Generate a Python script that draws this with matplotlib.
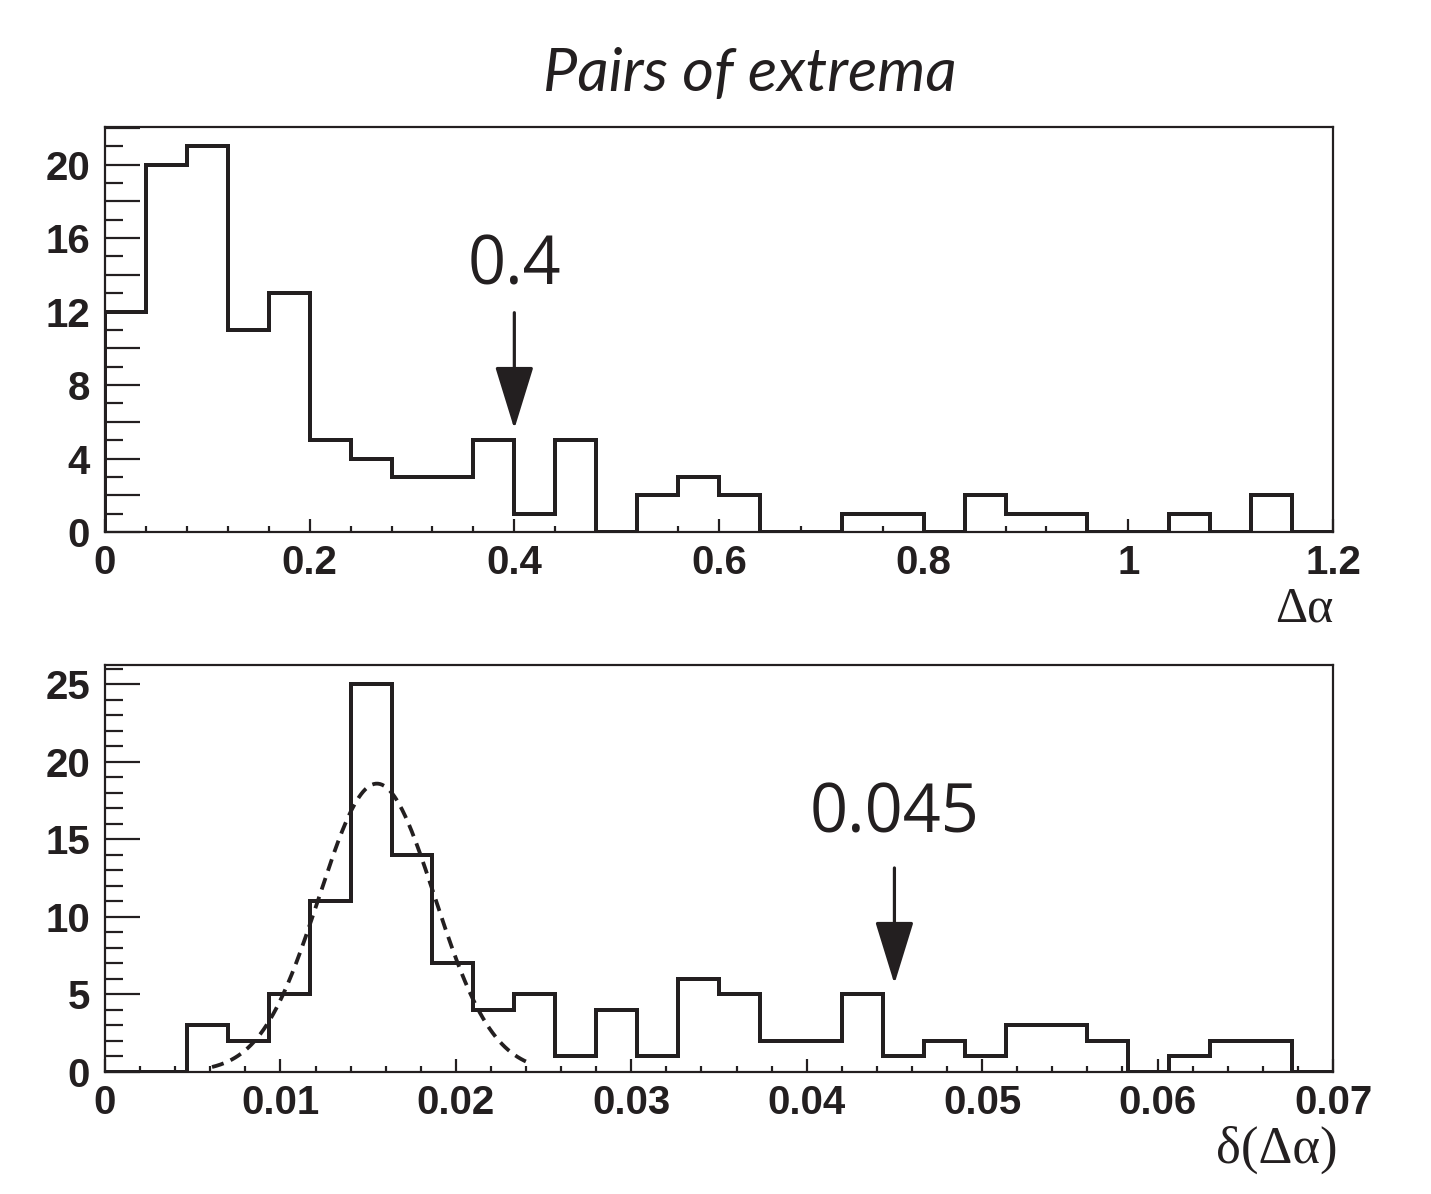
import numpy as np
import matplotlib
matplotlib.use("Agg")
import matplotlib.pyplot as plt
from matplotlib.ticker import MultipleLocator, FuncFormatter

# top panel: delta alpha, 30 bins on [0, 1.2]
top_edges = np.linspace(0.0, 1.2, 31)
top_counts = [12, 20, 21, 11, 13, 5, 4, 3, 3, 5,
              1, 5, 0, 2, 3, 2, 0, 0, 1, 1,
              0, 2, 1, 1, 0, 0, 1, 0, 2, 0]
top_cut = 0.4

# bottom panel: delta(delta alpha), 30 bins on [0, 0.07]
bot_edges = np.linspace(0.0, 0.07, 31)
bot_counts = [0, 0, 3, 2, 5, 11, 25, 14, 7, 4,
              5, 1, 4, 1, 6, 5, 2, 2, 5, 1,
              2, 1, 3, 3, 2, 0, 1, 2, 2, 0]
bot_cut = 0.045

# gaussian fit drawn dashed on the bottom panel
fit_amp = 18.6
fit_mean = 0.0155
fit_sigma = 0.0033
fit_range = (0.0061, 0.024)

INK = "#231f20"
W, H = 1431, 1194
PX = 72.0 / 100.0   # points per pixel at dpi 100

plt.rcParams["font.family"] = ["Liberation Sans", "DejaVu Sans"]

fig = plt.figure(figsize=(W / 100, H / 100), dpi=100)
ax1 = fig.add_axes([105 / W, 1 - 532 / H, 1228 / W, 405 / H])
ax2 = fig.add_axes([105 / W, 1 - 1072 / H, 1228 / W, 407 / H])


def fmt_num(v, pos):
    return "%g" % round(v, 6)


def style_axes(ax, xmajor, xminor, ymajor, yminor, ylabel_every):
    for s in ax.spines.values():
        s.set_linewidth(2.2 * PX)
        s.set_color(INK)
    ax.xaxis.set_major_locator(MultipleLocator(xmajor))
    ax.xaxis.set_minor_locator(MultipleLocator(xminor))
    ax.yaxis.set_major_locator(MultipleLocator(ymajor))
    ax.yaxis.set_minor_locator(MultipleLocator(yminor))
    ax.xaxis.set_major_formatter(FuncFormatter(fmt_num))

    def yfmt(v, pos):
        if abs(v / ylabel_every - round(v / ylabel_every)) < 1e-6:
            return "%d" % round(v)
        return ""
    ax.yaxis.set_major_formatter(FuncFormatter(yfmt))
    ax.tick_params(which="both", direction="in", top=False, right=False,
                   color=INK, width=2.2 * PX, labelcolor=INK)
    ax.tick_params(axis="x", which="major", length=13 * PX, pad=12 * PX)
    ax.tick_params(axis="x", which="minor", length=6 * PX)
    ax.tick_params(axis="y", which="major", length=35 * PX, pad=15 * PX)
    ax.tick_params(axis="y", which="minor", length=18 * PX)
    for lab in ax.get_xticklabels() + ax.get_yticklabels():
        lab.set_fontsize(29)
        lab.set_fontweight("bold")


def cut_arrow(ax, x, y_tip, y_tail):
    ax.annotate("", xy=(x, y_tip), xytext=(x, y_tail),
                arrowprops=dict(arrowstyle="-|>,head_length=%.1f,head_width=%.1f" % (55 * PX, 17 * PX),
                                mutation_scale=1, color=INK, lw=3.2 * PX,
                                shrinkA=0, shrinkB=0))


# top panel
ax1.stairs(top_counts, top_edges, baseline=0, color=INK, linewidth=4 * PX)
ax1.set_xlim(0, 1.2)
ax1.set_ylim(0, 1.05 * max(top_counts))
style_axes(ax1, 0.2, 0.04, 2, 1, 4)
cut_arrow(ax1, top_cut, 5.61, 11.94)
ax1.text(top_cut, 13.45, "0.4", ha="center", va="baseline", fontsize=48,
         family="Open Sans", color=INK)
ax1.text(1.0, -0.222, "Δα", transform=ax1.transAxes, ha="right", va="baseline",
         fontsize=36, family="Liberation Serif", color=INK)

# bottom panel
ax2.stairs(bot_counts, bot_edges, baseline=0, color=INK, linewidth=4 * PX)
xf = np.linspace(fit_range[0], fit_range[1], 300)
yf = fit_amp * np.exp(-0.5 * ((xf - fit_mean) / fit_sigma) ** 2)
ax2.plot(xf, yf, color=INK, linewidth=3.8 * PX, dashes=(3.2, 2.0))
ax2.set_xlim(0, 0.07)
ax2.set_ylim(0, 1.05 * max(bot_counts))
style_axes(ax2, 0.01, 0.002, 5, 1, 5)
cut_arrow(ax2, bot_cut, 5.68, 13.16)
ax2.text(bot_cut, 15.42, "0.045", ha="center", va="baseline", fontsize=48,
         family="Open Sans", color=INK)
ax2.text(1.004, -0.222, "δ(Δα)", transform=ax2.transAxes, ha="right", va="baseline",
         fontsize=38, family="Liberation Serif", color=INK)

fig.text(750 / W, 1 - 91 / H, "Pairs of extrema", ha="center", va="baseline",
         fontsize=44, family="Lato", style="italic", color=INK)

fig.savefig("out.png", dpi=100)
